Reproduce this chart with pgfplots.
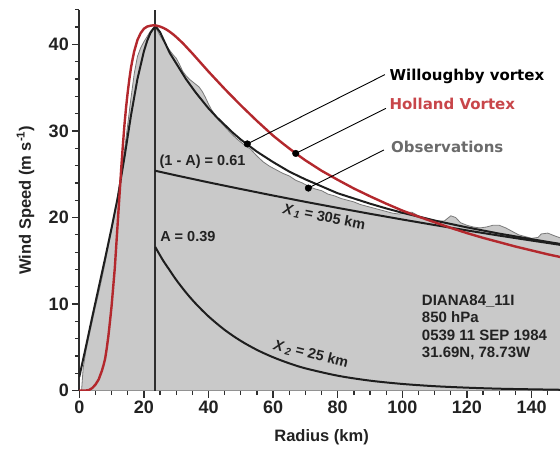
\documentclass[border=0pt]{standalone}
\usepackage{pgfplots}
\pgfplotsset{compat=1.18}
\usepackage{pgfplotstable}
\usepackage{fontspec}
\setmainfont{Liberation Sans}
\newfontfamily\dejavu{DejaVu Sans}
\definecolor{obsfill}{HTML}{C9C9C9}
\definecolor{obsline}{HTML}{7A7A7A}
\definecolor{axcol}{HTML}{2E2E2E}
\definecolor{labcol}{HTML}{222222}
\definecolor{hred}{HTML}{B3282D}
\definecolor{htext}{HTML}{C8464A}
\definecolor{otext}{HTML}{6B6B6B}
\definecolor{wline}{HTML}{1E1E1E}

\pgfplotstableread{
x y
0.7 0
1.2 2.6
2 4.5
3 6.3
4 8.0
5 9.7
6 11.3
7 13.0
8 14.8
9 16.7
10 18.6
11 20.6
12 22.8
13 25.2
14 27.8
15 30.8
16 33.8
17 36.6
18 38.6
19 39.6
20 40.3
21 40.9
22 41.5
23 41.9
23.5 42.0
24 41.7
25 41.0
26 40.4
27 39.8
28 39.3
29 38.8
30 38.4
31 37.7
32 36.9
33 36.4
34 36.0
35 35.7
36 35.4
37 35.1
38 34.6
39 33.9
40 33.1
41 32.4
42 31.9
43 31.3
44 30.9
45 30.5
47 29.7
49 29.0
51 28.4
53 27.9
55 27.1
57 26.4
59 25.9
61 25.5
63 25.1
65 24.8
67 24.3
69 24.0
71 23.6
73 23.3
75 23.1
77 22.7
79 22.5
81 22.2
83 22.0
85 21.8
87 21.5
89 21.3
91 21.1
93 20.9
95 20.7
97 20.5
99 20.4
101 20.6
103 20.6
105 20.2
107 20.0
109 19.8
111 19.6
113 19.6
114 19.9
115 20.2
116.5 20.0
118 19.4
120 19.1
122 18.9
124 18.8
126 18.9
128 19.1
130 19.1
132 18.8
134 18.4
136 18.0
138 17.8
140 17.6
142 17.7
143 18.1
145 18.2
147 17.9
150 17.5
}\obs

\pgfplotstableread{
x y
0 1.6
2 5.0
4 8.5
6 11.9
8 15.3
10 18.8
12 22.5
14 27.0
16 31.8
18 36.0
20 39.2
21 40.4
22 41.3
23 41.85
23.5 42.0
24 41.9
25 41.4
26 40.6
28 39.0
30 37.8
33 36.0
36 34.45
40 32.6
42.5 31.6
45 30.7
47.5 29.8
50 29.0
52.5 28.3
55 27.6
57.5 27.0
60 26.4
62.5 25.85
65 25.3
70 24.4
75 23.6
80 22.8
85 22.2
90 21.6
95 21.05
100 20.55
110 19.65
120 18.86
130 18.14
140 17.50
150 16.88
}\will

\pgfplotstableread{
x y
0 0
1 0.005
2 0.02
3 0.08
4 0.3
5 0.7
6 1.3
7 2.3
7.5 2.95
8 3.7
8.5 4.9
9 6.3
9.5 8.0
10 9.8
10.5 12.0
11 14.2
11.5 17.1
12 20.0
12.5 22.9
13 25.8
13.5 28.4
14 30.8
14.5 32.8
15 34.5
15.5 36.0
16 37.3
16.5 38.3
17 39.2
18 40.5
19 41.3
20 41.8
21 42.05
22 42.15
23 42.2
24 42.15
25 42.05
26 41.9
27 41.7
28 41.45
29 41.17
30 40.85
32 40.15
35 38.95
37.5 37.9
40 36.85
42.5 35.85
45 34.85
47.5 33.9
50 32.95
52.5 32.05
55 31.15
57.5 30.3
60 29.45
63 28.55
67 27.4
70 26.6
75 25.4
80 24.35
85 23.35
90 22.45
95 21.6
100 20.8
105 20.1
110 19.45
115 18.8
120 18.2
125 17.65
130 17.15
135 16.65
140 16.2
145 15.75
150 15.35
}\holl

\pgfplotstableread{
x y
23.5 25.4
30 24.86
40 24.06
50 23.29
60 22.54
70 21.81
80 21.11
90 20.43
100 19.77
110 19.13
120 18.51
130 17.91
140 17.34
150 16.78
}\xone

\pgfplotstableread{
x y
23.5 16.6
26 15.0
28 13.9
30 12.8
33 11.35
36 10.07
40 8.58
45 7.02
50 5.75
55 4.71
60 3.86
65 3.16
70 2.58
80 1.73
90 1.16
100 0.78
110 0.52
120 0.35
130 0.23
140 0.16
150 0.10
}\xtwo

\begin{document}
\begin{tikzpicture}
\begin{axis}[
  scale only axis, width=480.7pt, height=381pt,
  xmin=0, xmax=148.8, ymin=0, ymax=44,
  axis x line*=bottom, axis y line*=left,
  axis line style={-, line width=1.6pt, color=axcol},
  xtick={0,20,...,140}, minor xtick={0,5,...,145},
  ytick={0,10,...,40}, minor ytick={0,2,...,44},
  tick align=outside, major tick length=7pt, minor tick length=4.5pt,
  every tick/.style={line width=1.3pt, color=axcol},
  /pgf/number format/assume math mode=true,
  tick label style={font=\bfseries\fontsize{18}{18}\selectfont, text=labcol},
  clip mode=individual,
]
\addplot[fill=obsfill, draw=none] table {\obs} \closedcycle;
\addplot[obsline, line width=0.8pt] table {\obs};
\addplot[axcol, line width=1.8pt] coordinates {(23.5,0) (23.5,44)};
\addplot[wline, line width=2pt] table {\xone};
\addplot[wline, line width=2pt, smooth] table {\xtwo};
\addplot[wline, line width=2pt] table {\will};
\addplot[hred, line width=2.4pt] table {\holl};
% leader lines
\addplot[black, line width=0.9pt] coordinates {(52,28.5) (94.6,36.5)};
\addplot[black, line width=0.9pt] coordinates {(67,27.4) (94.9,32.6)};
\addplot[black, line width=0.9pt] coordinates {(70.9,23.4) (94.3,27.8)};
\addplot[only marks, mark=*, mark size=3.3pt, black] coordinates {(52,28.5) (67,27.4) (70.9,23.4)};
% labels
\node[anchor=base west, inner sep=0, font=\dejavu\bfseries\fontsize{15}{15}\selectfont, text=black] at (axis cs:96.0,35.82) {Willoughby vortex};
\node[anchor=base west, inner sep=0, font=\dejavu\bfseries\fontsize{15}{15}\selectfont, text=htext] at (axis cs:96.0,32.44) {Holland Vortex};
\node[anchor=base west, inner sep=0, font=\dejavu\bfseries\fontsize{15}{15}\selectfont, text=otext] at (axis cs:96.5,27.54) {Observations};
\node[anchor=base west, inner sep=0, font=\bfseries\fontsize{14.5}{14.5}\selectfont, text=labcol] at (axis cs:24.8,25.95) {(1 - A) = 0.61};
\node[anchor=base west, inner sep=0, font=\bfseries\fontsize{14.5}{14.5}\selectfont, text=labcol] at (axis cs:25.0,17.2) {A = 0.39};
\node[rotate=-11, inner sep=0, font=\bfseries\fontsize{14.5}{14.5}\selectfont, text=labcol] at (axis cs:75.8,20.0) {\textit{X}\kern1.2pt\textsubscript{\textit{1}} = 305 km};
\node[rotate=-14, inner sep=0, font=\bfseries\fontsize{14.5}{14.5}\selectfont, text=labcol] at (axis cs:71.7,4.2) {\textit{X}\kern2pt\textsubscript{\textit{2}} = 25 km};
\node[anchor=base west, inner sep=0, font=\bfseries\fontsize{15}{15}\selectfont, text=labcol] at (axis cs:106.0,9.89) {DIANA84\_11I};
\node[anchor=base west, inner sep=0, font=\bfseries\fontsize{15}{15}\selectfont, text=labcol] at (axis cs:106.0,7.83) {850 hPa};
\node[anchor=base west, inner sep=0, font=\bfseries\fontsize{15}{15}\selectfont, text=labcol] at (axis cs:106.0,5.82) {0539 11 SEP 1984};
\node[anchor=base west, inner sep=0, font=\bfseries\fontsize{15}{15}\selectfont, text=labcol] at (axis cs:106.0,3.79) {31.69N, 78.73W};
% axis labels
\node[rotate=90, font=\bfseries\fontsize{16.5}{16.5}\selectfont, text=labcol] at ([xshift=-53.8pt]rel axis cs:0,0.5) {Wind Speed (m s\textsuperscript{-1})};
\node[font=\bfseries\fontsize{16.5}{16.5}\selectfont, text=labcol] at ([yshift=-46.3pt]rel axis cs:0.504,0) {Radius (km)};
\end{axis}
\pgfresetboundingbox
\path ([xshift=-79.3pt,yshift=-66.3pt]current axis.south west) rectangle ([yshift=9.7pt]current axis.north east);
\end{tikzpicture}
\end{document}
